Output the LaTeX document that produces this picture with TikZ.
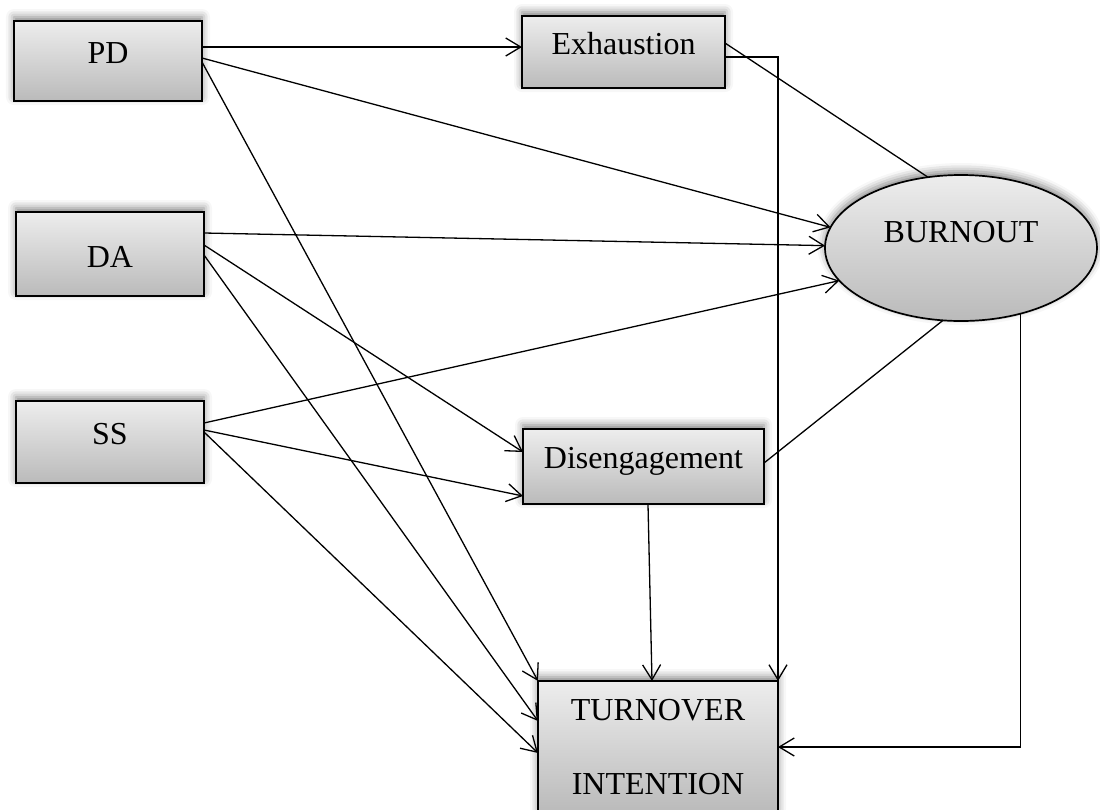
\documentclass[tikz,border=0pt]{standalone}
\usepackage{fontspec}
\setmainfont{Liberation Serif}
\usetikzlibrary{arrows.meta,shapes.geometric,shadows.blur}

\begin{document}
\begin{tikzpicture}[x=0.5pt,y=-0.5pt,
  factor/.style={draw,line width=0.85pt,top color=black!7,bottom color=black!27,
    blur shadow={shadow xshift=0pt,shadow yshift=2pt,shadow blur radius=4pt,shadow opacity=50},
    inner sep=0pt,outer sep=0pt,font=\fontsize{16pt}{19pt}\selectfont},
  box/.style={factor,text height=9pt,text depth=7pt},
  link/.style={line width=0.65pt,-{Straight Barb[length=7.5pt,width=9pt]}},
  tie/.style={line width=0.65pt}]
\useasboundingbox (0,0) rectangle (1100,810);
% predictors
\node[box,minimum width=94pt,minimum height=40pt] (pd) at (108,61) {PD};
\node[box,minimum width=94pt,minimum height=42pt,text height=14pt,text depth=1pt] (da) at (110,254) {DA};
\node[box,minimum width=94pt,minimum height=41pt] (ss) at (110,442) {SS};
% mediators
\node[box,minimum width=101.5pt,minimum height=36pt] (exh) at (623.5,52) {Exhaustion};
\node[box,minimum width=120.5pt,minimum height=37.5pt] (dis) at (643.5,466.5) {Disengagement};
\node[factor,ellipse,minimum width=136pt,minimum height=73pt,text height=11pt,text depth=17pt] (burn) at (961,248) {BURNOUT};
% outcome
\node[factor,align=center,font=\fontsize{16pt}{37pt}\selectfont,minimum width=120pt,minimum height=66pt] (turn) at (658,747) {TURNOVER\\INTENTION};

\draw[link] ([yshift=7pt]pd.east) -- ([yshift=2.5pt]exh.west);
\draw[link] ([yshift=1.5pt]pd.east) -- (burn.171);
\draw[link] ([yshift=-0.5pt]pd.east) -- (turn.north west);
\draw[tie] ([yshift=4.5pt]exh.east) -- (burn.115);
\draw[link] ([yshift=-2.5pt]exh.east) -| (turn.north east);
\draw[link] ([yshift=10.5pt]da.east) -- (burn.179);
\draw[link] ([yshift=4.5pt]da.east) -- ([yshift=7.25pt]dis.west);
\draw[link] ([yshift=-0.5pt]da.east) -- ([yshift=13pt]turn.west);
\draw[link] ([yshift=9.5pt]ss.east) -- (burn.195);
\draw[link] ([yshift=6pt]ss.east) -- ([yshift=-14.75pt]dis.west);
\draw[link] ([yshift=5pt]ss.east) -- ([yshift=-3pt]turn.west);
\draw[tie] ([yshift=1.75pt]dis.east) -- (burn.256);
\draw[link] ([xshift=2.25pt]dis.south) -- ([xshift=-3pt]turn.north);
\draw[link] (burn.312) |- (turn.east);
\end{tikzpicture}
\end{document}
